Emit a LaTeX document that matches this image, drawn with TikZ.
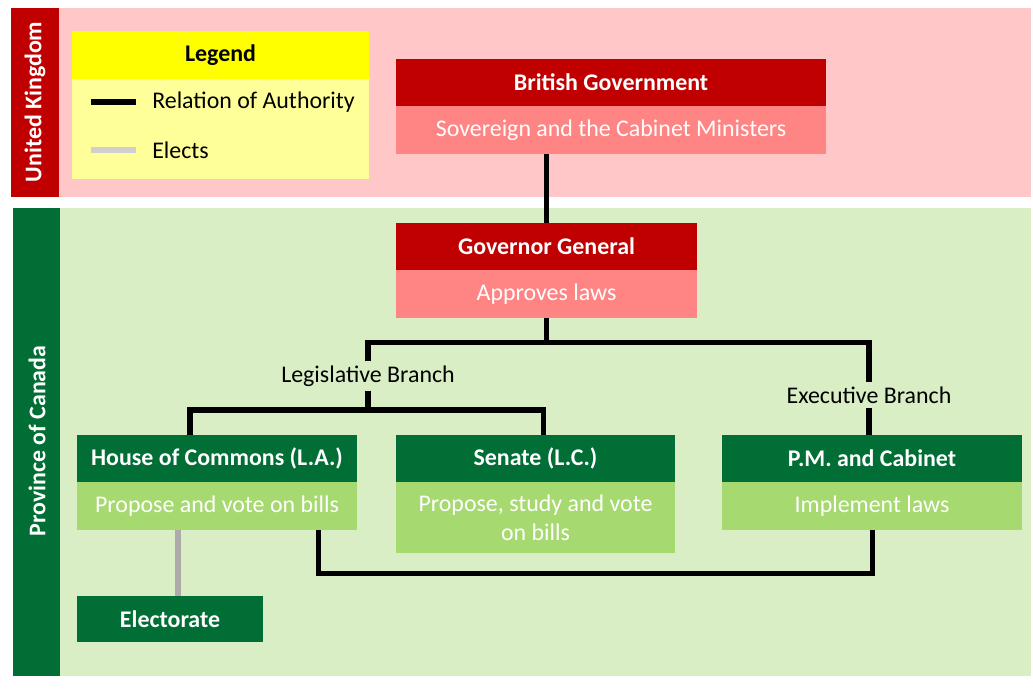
\documentclass[tikz,border=0pt]{standalone}
\usepackage{xcolor}
\usepackage{fontspec}
\setmainfont{Carlito}
\usepackage{tikz}
\usetikzlibrary{positioning}

\definecolor{ukred}{HTML}{C00000}
\definecolor{uksalmon}{HTML}{FF8585}
\definecolor{ukbg}{HTML}{FFC7C7}
\definecolor{cagreen}{HTML}{006E35}
\definecolor{calight}{HTML}{A7D971}
\definecolor{cabg}{HTML}{DAEEC5}
\definecolor{legendhead}{HTML}{FFFF00}
\definecolor{legendbody}{HTML}{FFFF99}
\definecolor{keygray}{HTML}{D0CECE}
\definecolor{electgray}{HTML}{AEAAAA}

\begin{document}
\begin{tikzpicture}[
    x=0.025cm, y=-0.025cm,
    node distance=0pt,
    every node/.style={font=\fontsize{17}{20.6}\selectfont},
    head/.style={text=white, font=\fontsize{17}{20.6}\selectfont\bfseries, minimum height=1.175cm, inner sep=0pt, outer sep=0pt},
    sub/.style={text=white, minimum height=1.2cm, inner sep=0pt, outer sep=0pt, align=center},
    redhead/.style={head, fill=ukred},
    redsub/.style={sub, fill=uksalmon},
    greenhead/.style={head, fill=cagreen},
    greensub/.style={sub, fill=calight},
    strip/.style={rotate=90, text=white, font=\fontsize{17}{20.6}\selectfont\bfseries},
    branch/.style={inner sep=3pt},
    auth/.style={line width=3.6pt},
    elect/.style={line width=3.6pt, draw=electgray}
]
    \useasboundingbox (0,0) rectangle (1033,692);

    % bands
    \fill[ukbg] (59,8) rectangle (1031,197);
    \fill[ukred] (11,8) rectangle (59,197);
    \fill[cabg] (60,208) rectangle (1031,676);
    \fill[cagreen] (13,208) rectangle (60,676);
    \node[strip] (uk) at (35,102) {United Kingdom};
    \node[strip] (canada) at (37,441) {Province of Canada};

    % legend
    \node[head, fill=legendhead, text=black, minimum width=7.425cm, minimum height=1.2cm, anchor=north west] (legend) at (72,31) {Legend};
    \node[sub, fill=legendbody, minimum width=7.425cm, minimum height=2.5cm, below=of legend] (legendbody) {};
    \node[anchor=west, inner sep=0pt] (relkey) at (152,102) {Relation of Authority};
    \node[anchor=west, inner sep=0pt] (electkey) at (152,150) {Elects};
    \draw[auth] ([xshift=-0.4cm]relkey.west) -- ++(-45,0);
    \draw[line width=3.6pt, keygray] ([xshift=-0.4cm]electkey.west) -- ++(-45,0);

    % boxes
    \node[redhead, minimum width=10.75cm, anchor=north west] (brit) at (396,59) {British Government};
    \node[redsub, minimum width=10.75cm, below=of brit] (britsub) {Sovereign and the Cabinet Ministers};

    \node[redhead, minimum width=7.525cm, anchor=north west] (gg) at (396,223) {Governor General};
    \node[redsub, minimum width=7.525cm, below=of gg] (ggsub) {Approves laws};

    \node[greenhead, minimum width=7cm, anchor=north west] (hoc) at (77,435) {House of Commons (L.A.)};
    \node[greensub, minimum width=7cm, below=of hoc] (hocsub) {Propose and vote on bills};

    \node[greenhead, minimum width=6.975cm, anchor=north west] (senate) at (396,435) {Senate (L.C.)};
    \node[greensub, minimum width=6.975cm, minimum height=1.775cm, below=of senate] (senatesub) {Propose, study and vote\\on bills};

    \node[greenhead, minimum width=7.5cm, anchor=north west] (pm) at (722,435) {P.M. and Cabinet};
    \node[greensub, minimum width=7.5cm, below=of pm] (pmsub) {Implement laws};

    \node[greenhead, minimum width=4.65cm, minimum height=1.15cm, anchor=north west] (electorate) at (77,596) {Electorate};

    % branch labels
    \node[branch] (leg) at (368,376) {Legislative Branch};
    \node[branch] (exe) at (869,395) {Executive Branch};
    \coordinate (split) at ([yshift=-0.6cm]ggsub.south);
    \coordinate (legbar) at (368,410);

    % connectors
    \draw[auth] (gg.north |- britsub.south) -- (gg.north);
    \draw[auth] (ggsub.south) -- (split);
    \draw[auth] (leg.north) |- (split) -| (exe.north);
    \draw[auth] (leg.south) -- (legbar);
    \draw[auth] ([xshift=-0.675cm]hoc.north) |- (legbar) -| ([xshift=0.21cm]senate.north);
    \draw[auth] (exe.south) -- (exe.south |- pm.north);
    \draw[auth] ([xshift=2.525cm]hocsub.south) -- ++(0,43) -| (pmsub.south);
    \draw[elect] ([xshift=0.2cm]electorate.north) -- ([xshift=0.2cm]electorate.north |- hocsub.south);
\end{tikzpicture}
\end{document}
